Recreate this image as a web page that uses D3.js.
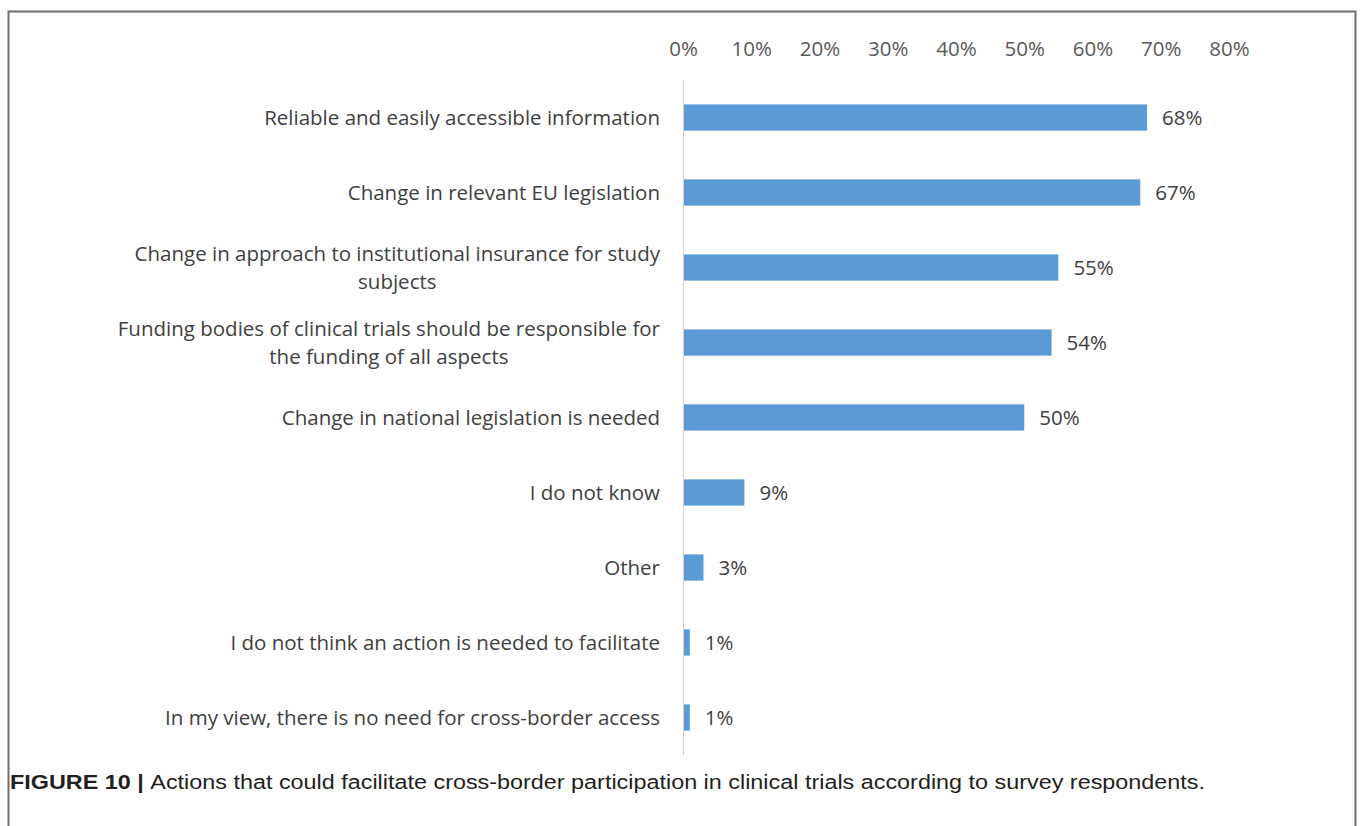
<!DOCTYPE html>
<html>
<head>
<meta charset="utf-8">
<script src="https://cdn.jsdelivr.net/npm/d3@7"></script>
<style>
  body { margin: 0; background: #fff; }
  svg text { font-family: 'Open Sans', sans-serif; }
</style>
</head>
<body>
<div id="chart"></div>
<script>
var categories = [
  ['Reliable and easily accessible information'],
  ['Change in relevant EU legislation'],
  ['Change in approach to institutional insurance for study', 'subjects'],
  ['Funding bodies of clinical trials should be responsible for', 'the funding of all aspects'],
  ['Change in national legislation is needed'],
  ['I do not know'],
  ['Other'],
  ['I do not think an action is needed to facilitate'],
  ['In my view, there is no need for cross-border access']
];
var values = [0.68, 0.67, 0.55, 0.54, 0.50, 0.09, 0.03, 0.01, 0.01];
var ticks = [0, 0.1, 0.2, 0.3, 0.4, 0.5, 0.6, 0.7, 0.8];
var caption = 'Actions that could facilitate cross-border participation in clinical trials according to survey respondents.';

var W = 1360, H = 826;
var svg = d3.select('#chart').append('svg')
  .attr('width', W).attr('height', H);

// frame (no bottom edge)
svg.append('path')
  .attr('d', 'M8.5,826 V11.5 H1355.5 V826')
  .attr('fill', 'none').attr('stroke', '#6e6e6e').attr('stroke-width', 2);

var x = d3.scaleLinear().domain([0, 0.8]).range([683, 1229]);
var y = d3.scaleBand().domain(d3.range(values.length)).range([80, 755]).paddingInner(0.65).paddingOuter(0.325);

// x axis on top
var xAxis = d3.axisTop(x).tickValues(ticks).tickSize(0).tickPadding(0)
  .tickFormat(d3.format('.0%'));
var gx = svg.append('g').attr('transform', 'translate(0,56)').call(xAxis);
gx.select('.domain').remove();
gx.selectAll('text').attr('fill', '#595959').style('font-size', '20.5px')
  .style('font-family', "'Open Sans', sans-serif");

// vertical axis line
svg.append('line')
  .attr('x1', x(0) + 0.5).attr('x2', x(0) + 0.5)
  .attr('y1', 80).attr('y2', 755)
  .attr('stroke', '#d0d0d0').attr('stroke-width', 1);

// bars
svg.append('g').selectAll('rect').data(values).join('rect')
  .attr('x', x(0) + 1)
  .attr('y', function(d, i) { return y(i); })
  .attr('width', function(d) { return x(d) - x(0) - 1; })
  .attr('height', y.bandwidth())
  .attr('fill', '#5b9bd5');

// value labels
svg.append('g').selectAll('text').data(values).join('text')
  .attr('x', function(d) { return x(d) + 15; })
  .attr('y', function(d, i) { return y(i) + y.bandwidth() / 2; })
  .attr('dy', '0.35em')
  .attr('fill', '#404040')
  .style('font-size', '20.5px')
  .text(function(d) { return d3.format('.0%')(d); });

// category labels, lines centred within a right-aligned block
var labelRight = 660, lineH = 28;
categories.forEach(function(lines, i) {
  var g = svg.append('g');
  var cy = y(i) + y.bandwidth() / 2;
  var texts = lines.map(function(l, j) {
    return g.append('text')
      .attr('y', cy + (j - (lines.length - 1) / 2) * lineH)
      .attr('dy', '0.35em')
      .attr('fill', '#404040')
      .style('font-size', '20.5px')
      .text(l);
  });
  var maxW = d3.max(texts, function(t) { return t.node().getComputedTextLength(); });
  texts.forEach(function(t) {
    t.attr('x', labelRight - maxW / 2).attr('text-anchor', 'middle');
  });
});

// caption
var cap = svg.append('text')
  .attr('x', 10).attr('y', 789)
  .style('font-family', "'Liberation Sans', Arial, sans-serif")
  .style('font-size', '19.5px')
  .attr('fill', '#231f20');
cap.append('tspan').style('font-weight', 'bold').text('FIGURE 10 | ');
cap.append('tspan').text(caption);
cap.attr('textLength', 1195).attr('lengthAdjust', 'spacingAndGlyphs');
</script>
</body>
</html>
